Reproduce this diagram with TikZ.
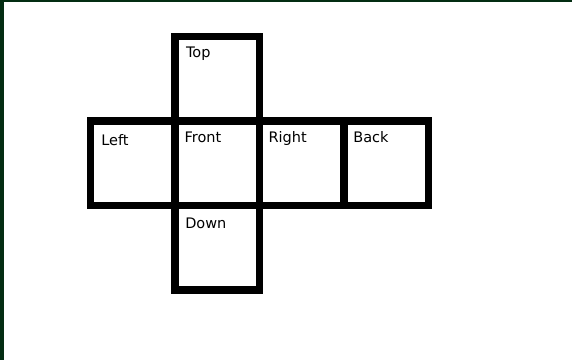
\documentclass[tikz,border=0pt]{standalone}
\usepackage{fontspec}
\usetikzlibrary{positioning}
\newfontfamily\cubefont{DejaVu Sans}
\definecolor{FrameGreen}{RGB}{3,45,18}
\tikzset{
  face/.style={draw=black, line width=7.5pt, fill=white, rectangle, inner sep=0pt, outer sep=0pt,
    minimum width=84.5pt, minimum height=84.5pt},
  facelabel/.style={anchor=base west, inner sep=0pt, outer sep=0pt, text=black,
    font=\cubefont\fontsize{14.5}{17}\selectfont},
}
\begin{document}
\begin{tikzpicture}[x=1pt, y=-1pt]
  \useasboundingbox (0,0) rectangle (572,360);
  \fill[white] (0,0) rectangle (572,360);
  \fill[FrameGreen] (0,0) rectangle (4,360);
  \fill[FrameGreen] (0,0) rectangle (572,2);
  % cube net
  \node[face] (front) at (217.25,163.25) {};
  \node[face, above=0pt of front] (top) {};
  \node[face, below=0pt of front] (down) {};
  \node[face, left=0pt of front] (left) {};
  \node[face, right=0pt of front] (right) {};
  \node[face, right=0pt of right] (back) {};
  % face names
  \node[facelabel] (toplbl) at ([xshift=11pt,yshift=-20.8pt]top.north west) {Top};
  \node[facelabel] (leftlbl) at ([xshift=10.8pt,yshift=-24.5pt]left.north west) {Left};
  \node[facelabel] (frontlbl) at ([xshift=9.6pt,yshift=-21.8pt]front.north west) {Front};
  \node[facelabel] (rightlbl) at ([xshift=9.1pt,yshift=-21.8pt]right.north west) {Right};
  \node[facelabel] (backlbl) at ([xshift=9.3pt,yshift=-21.5pt]back.north west) {Back};
  \node[facelabel] (downlbl) at ([xshift=10.3pt,yshift=-23.3pt]down.north west) {Down};
\end{tikzpicture}
\end{document}
